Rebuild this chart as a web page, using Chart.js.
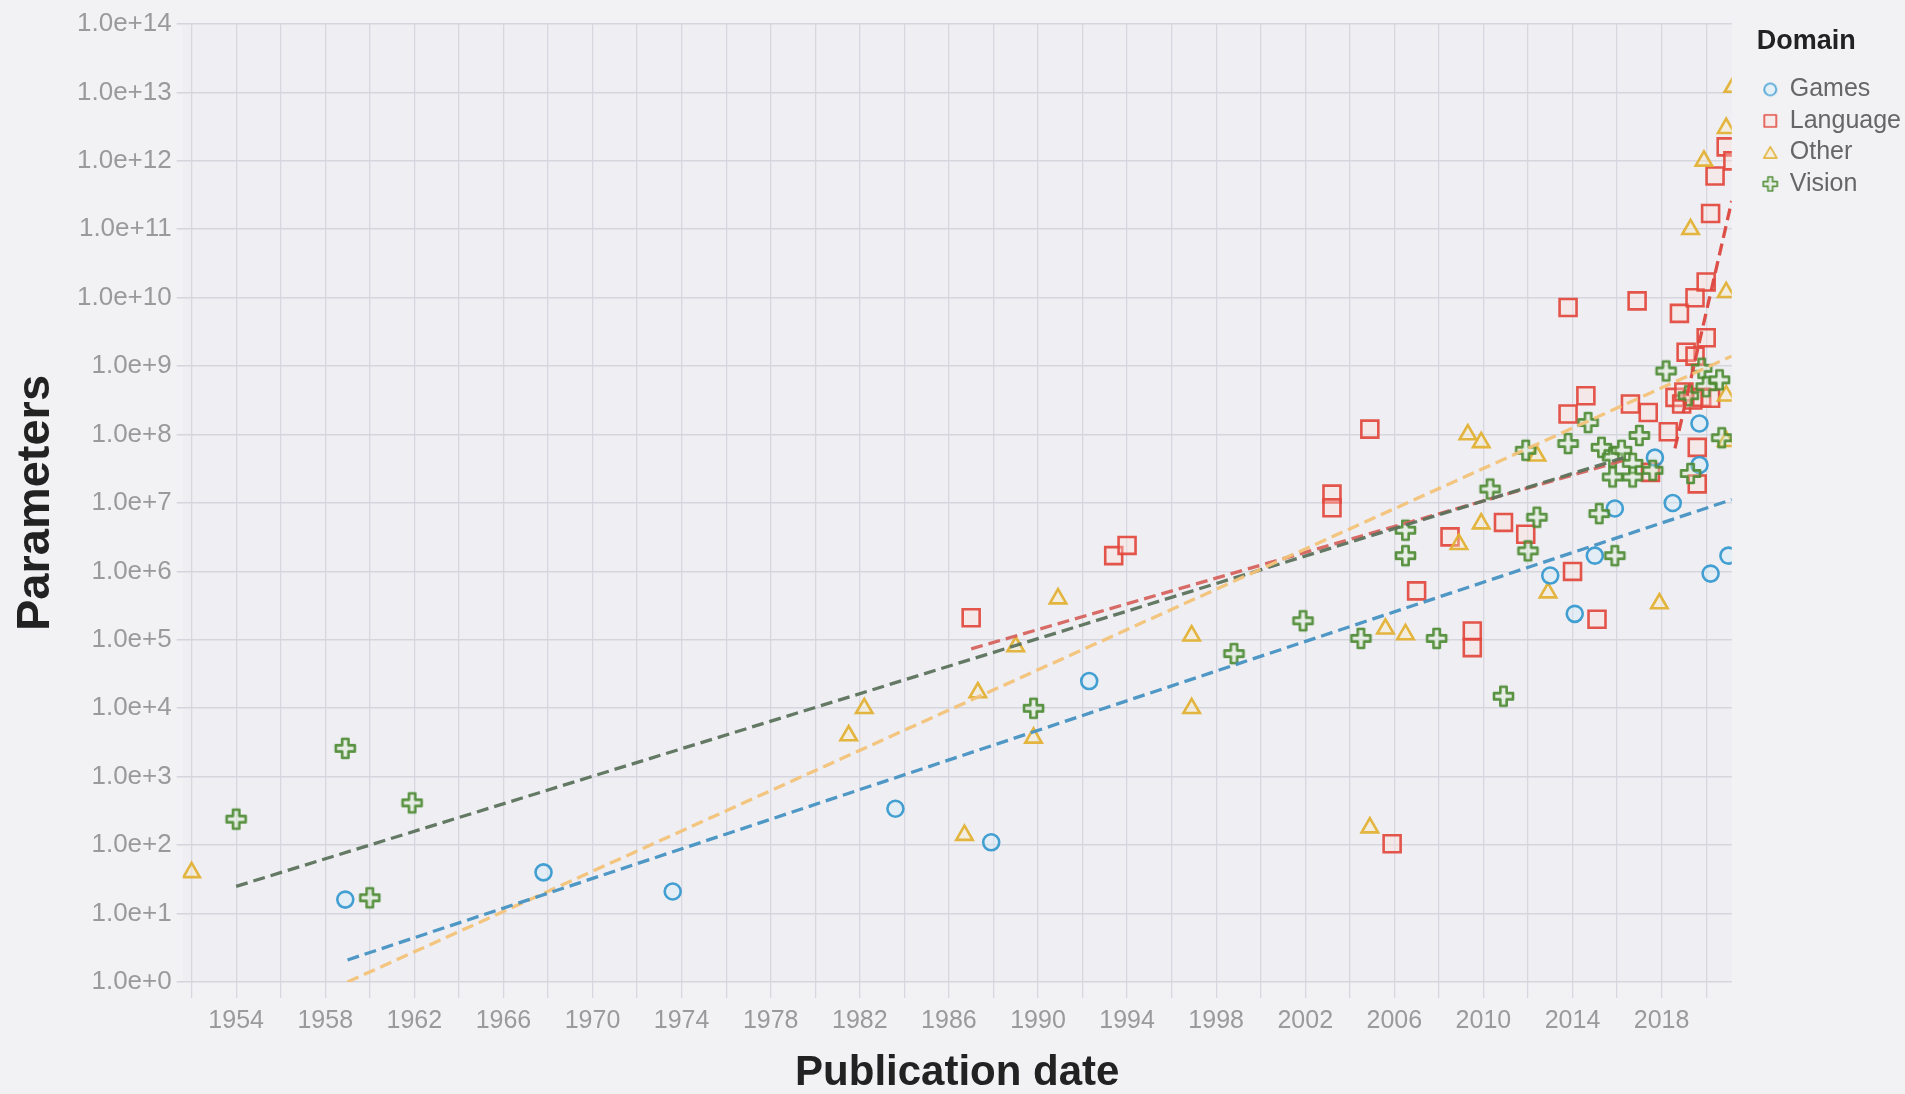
<!DOCTYPE html>
<html>
<head>
<meta charset="utf-8">
<title>Parameters by publication date</title>
<script src="https://cdn.jsdelivr.net/npm/chart.js@4/dist/chart.umd.min.js"></script>
<style>
  html, body { margin: 0; padding: 0; background: #f2f2f5; }
  #wrap { width: 1905px; height: 1094px; }
</style>
</head>
<body>
<div id="wrap"><canvas id="chart"></canvas></div>
<script>
// Domains shown in the legend
const domains = ['Games', 'Language', 'Other', 'Vision'];

// [publication year, parameter count]
const games = [
  [1958.9, 16], [1967.8, 40], [1973.6, 21], [1983.6, 340], [1987.9, 110],
  [1992.3, 2.5e4], [2013.0, 8.7e5], [2014.1, 2.4e5], [2015.0, 1.7e6],
  [2015.9, 8.3e6], [2017.7, 4.6e7], [2018.5, 1.0e7], [2019.7, 1.45e8],
  [2019.7, 3.6e7], [2020.2, 9.3e5], [2021.0, 1.7e6]
];
const language = [
  [1987.0, 2.1e5], [1993.4, 1.7e6], [1994.0, 2.4e6], [2003.2, 1.35e7], [2003.2, 8.5e6],
  [2004.9, 1.2e8], [2005.9, 105], [2007.0, 5.2e5], [2008.5, 3.2e6], [2009.5, 1.35e5],
  [2009.5, 7.7e4], [2010.9, 5.2e6], [2011.9, 3.5e6], [2013.8, 7.2e9], [2013.8, 2.0e8],
  [2014.0, 1.0e6], [2014.6, 3.7e8], [2015.1, 2.0e5], [2016.6, 2.8e8], [2016.9, 9.0e9],
  [2017.4, 2.1e8], [2017.5, 2.8e7], [2018.3, 1.1e8], [2018.6, 3.5e8], [2018.8, 5.9e9],
  [2018.9, 2.8e8], [2019.0, 4.2e8], [2019.1, 1.6e9], [2019.4, 3.2e8], [2019.5, 1.4e9],
  [2019.5, 1.0e10], [2019.6, 6.5e7], [2019.6, 1.9e7], [2019.8, 3.5e8], [2020.0, 1.7e10],
  [2020.0, 2.6e9], [2020.2, 3.4e8], [2020.2, 1.7e11], [2020.4, 6.0e11], [2020.9, 1.6e12],
  [2021.2, 1.0e12], [2021.2, 2.0e11]
];
const other = [
  [1952.0, 40], [1981.5, 4.0e3], [1982.2, 1.0e4], [1986.7, 140], [1987.3, 1.7e4],
  [1989.0, 8.0e4], [1989.8, 3.7e3], [1990.9, 4.0e5], [1996.9, 1.15e5], [1996.9, 1.0e4],
  [2004.9, 180], [2005.6, 1.45e5], [2006.5, 1.2e5], [2008.9, 2.5e6], [2009.3, 1.0e8],
  [2009.9, 7.7e7], [2009.9, 5.0e6], [2012.4, 4.9e7], [2012.9, 4.9e5], [2017.9, 3.4e5],
  [2019.3, 1.0e11], [2019.9, 1.0e12], [2020.9, 3.0e12], [2021.2, 1.2e13], [2020.9, 1.2e10],
  [2020.9, 3.7e8], [2020.9, 8.0e7]
];
const vision = [
  [1954.0, 240], [1958.9, 2600], [1960.0, 17], [1961.9, 415], [1989.8, 1.0e4],
  [1998.8, 6.3e4], [2001.9, 1.9e5], [2004.5, 1.05e5], [2006.5, 4.0e6], [2006.5, 1.7e6],
  [2007.9, 1.05e5], [2010.3, 1.6e7], [2010.9, 1.5e4], [2011.9, 5.9e7], [2012.0, 2.0e6],
  [2012.4, 6.2e6], [2013.8, 7.4e7], [2014.7, 1.5e8], [2015.2, 7.0e6], [2015.9, 1.7e6],
  [2015.3, 6.5e7], [2015.8, 4.7e7], [2015.8, 2.4e7], [2016.2, 5.9e7], [2016.7, 3.8e7],
  [2016.7, 2.4e7], [2017.0, 9.7e7], [2017.6, 3.0e7], [2018.2, 8.5e8], [2019.2, 3.7e8],
  [2019.3, 2.7e7], [2019.8, 9.3e8], [2020.0, 5.0e8], [2020.6, 6.3e8], [2020.7, 9.0e7]
];

// Fitted trend segments: [start, end] as [year, parameters]
const gamesTrend = [[1959.0, 2.1], [2021.15, 1.12e7]];
const otherTrend = [[1959.0, 1.0], [2021.15, 1.4e9]];
const visionTrend = [[1954.0, 25], [2016.3, 4.6e7]];
const languageTrend = [[1987.0, 7.4e4], [2016.3, 4.2e7]];
const languageRecentTrend = [[2018.6, 6.3e7], [2021.15, 2.6e11]];

// Axis ticks
const gridYears = [1952, 1954, 1956, 1958, 1960, 1962, 1964, 1966, 1968, 1970, 1972, 1974,
  1976, 1978, 1980, 1982, 1984, 1986, 1988, 1990, 1992, 1994, 1996, 1998, 2000, 2002,
  2004, 2006, 2008, 2010, 2012, 2014, 2016, 2018, 2020];
const labelYears = [1954, 1958, 1962, 1966, 1970, 1974, 1978, 1982, 1986, 1990, 1994,
  1998, 2002, 2006, 2010, 2014, 2018];
const yTickLabels = ['1.0e+0', '1.0e+1', '1.0e+2', '1.0e+3', '1.0e+4', '1.0e+5', '1.0e+6',
  '1.0e+7', '1.0e+8', '1.0e+9', '1.0e+10', '1.0e+11', '1.0e+12', '1.0e+13', '1.0e+14'];

const FONT = "'Liberation Sans', Arial, Helvetica, sans-serif";
Chart.defaults.font.family = FONT;

const stroke = {
  Games: 'rgba(52,152,206,0.92)',
  Language: 'rgba(226,70,60,0.92)',
  Other: 'rgba(226,176,48,0.92)',
  Vision: 'rgba(76,138,50,0.92)'
};
const fill = {
  Games: 'rgba(205,236,250,0.35)',
  Language: 'rgba(255,222,214,0.35)',
  Other: 'rgba(250,236,190,0.35)',
  Vision: 'rgba(214,236,204,0.35)'
};

// Small canvases used as marker glyphs
function glyph(kind, size, color, bg, lw) {
  const pad = lw + 2;
  const s = Math.ceil(size + pad * 2);
  const c = document.createElement('canvas');
  c.width = c.height = s;
  const g = c.getContext('2d');
  const o = s / 2, h = size / 2;
  g.beginPath();
  if (kind === 'circle') {
    g.arc(o, o, h, 0, Math.PI * 2);
  } else if (kind === 'square') {
    g.rect(o - h, o - h, size, size);
  } else if (kind === 'triangle') {
    const th = size * 0.87;
    g.moveTo(o, o - th / 2);
    g.lineTo(o + h, o + th / 2);
    g.lineTo(o - h, o + th / 2);
    g.closePath();
  } else {
    const a = size / 6;
    g.moveTo(o - h, o - a); g.lineTo(o - a, o - a); g.lineTo(o - a, o - h);
    g.lineTo(o + a, o - h); g.lineTo(o + a, o - a); g.lineTo(o + h, o - a);
    g.lineTo(o + h, o + a); g.lineTo(o + a, o + a); g.lineTo(o + a, o + h);
    g.lineTo(o - a, o + h); g.lineTo(o - a, o + a); g.lineTo(o - h, o + a);
    g.closePath();
  }
  g.fillStyle = bg;
  g.fill();
  g.lineJoin = 'round';
  g.lineWidth = lw;
  g.strokeStyle = color;
  g.stroke();
  return c;
}

const visionMarker = glyph('cross', 19, stroke.Vision, fill.Vision, 2.6);
const legendGlyphs = {
  Games: glyph('circle', 12, stroke.Games, fill.Games, 1.7),
  Language: glyph('square', 12, stroke.Language, fill.Language, 1.7),
  Other: glyph('triangle', 13, stroke.Other, fill.Other, 1.7),
  Vision: glyph('cross', 14, stroke.Vision, fill.Vision, 1.7)
};

const toXY = arr => arr.map(([x, y]) => ({ x, y }));

function pointSet(name, data, style, radius, order) {
  return {
    label: name,
    data: toXY(data),
    pointStyle: style,
    pointRadius: radius,
    borderWidth: 2.6,
    borderColor: stroke[name],
    backgroundColor: fill[name],
    showLine: false,
    order
  };
}

function trendSet(name, data, color) {
  return {
    label: name + ' trend',
    data: toXY(data),
    showLine: true,
    borderColor: color,
    borderWidth: 3.3,
    borderDash: [12, 6],
    pointRadius: 0,
    fill: false,
    order: 0
  };
}

const plotBackground = {
  id: 'plotBackground',
  beforeDraw(chart) {
    const { ctx, chartArea: a } = chart;
    ctx.save();
    ctx.fillStyle = '#eeeef3';
    ctx.fillRect(a.left, a.top, a.right - a.left, a.bottom - a.top);
    ctx.restore();
  }
};

new Chart(document.getElementById('chart'), {
  type: 'scatter',
  data: {
    datasets: [
      trendSet('Games', gamesTrend, 'rgba(70,146,194,0.95)'),
      trendSet('Other', otherTrend, 'rgba(242,194,120,0.95)'),
      trendSet('Vision', visionTrend, 'rgba(92,114,92,0.95)'),
      trendSet('Language', languageTrend, 'rgba(214,92,86,0.9)'),
      trendSet('Language', languageRecentTrend, 'rgba(220,70,62,0.95)'),
      pointSet('Vision', vision, visionMarker, 9, 1),
      pointSet('Games', games, 'circle', 8, 2),
      pointSet('Other', other, 'triangle', 9.5, 3),
      pointSet('Language', language, 'rect', 12, 4)
    ]
  },
  options: {
    responsive: true,
    maintainAspectRatio: false,
    animation: false,
    events: [],
    layout: { padding: { top: 24, left: 8, right: -6, bottom: 0 } },
    plugins: {
      tooltip: { enabled: false },
      legend: {
        position: 'right',
        align: 'start',
        title: {
          display: true,
          text: 'Domain',
          color: '#222',
          position: 'start',
          font: { size: 27, weight: 'bold', family: FONT },
          padding: { top: 4, bottom: 10 }
        },
        labels: {
          usePointStyle: true,
          boxWidth: 14,
          boxHeight: 14,
          padding: 6.5,
          color: '#666',
          font: { size: 25, family: FONT },
          generateLabels: () => domains.map((name, i) => ({
            text: name,
            fillStyle: fill[name],
            strokeStyle: stroke[name],
            lineWidth: 1.7,
            pointStyle: legendGlyphs[name],
            fontColor: '#666',
            hidden: false,
            datasetIndex: i
          }))
        }
      }
    },
    scales: {
      x: {
        type: 'linear',
        min: 1951.6,
        max: 2021.15,
        afterBuildTicks: s => { s.ticks = gridYears.map(v => ({ value: v })); },
        ticks: {
          autoSkip: false,
          maxRotation: 0,
          padding: 8,
          color: '#9a9a9a',
          font: { size: 25 },
          callback: v => labelYears.includes(v) ? String(v) : ''
        },
        grid: { color: '#d7d7df', lineWidth: 1.3, tickLength: 16, tickColor: '#d7d7df' },
        border: { display: false },
        title: {
          display: true,
          text: 'Publication date',
          color: '#222',
          font: { size: 42, weight: 'bold', lineHeight: 1 },
          padding: { top: 8, bottom: 0 }
        }
      },
      y: {
        type: 'logarithmic',
        min: 1,
        max: 1e14,
        afterBuildTicks: s => { s.ticks = yTickLabels.map((_, i) => ({ value: Math.pow(10, i) })); },
        ticks: {
          autoSkip: false,
          padding: 5,
          color: '#9a9a9a',
          font: { size: 26 },
          callback: (v, i) => yTickLabels[i]
        },
        grid: { color: '#d5d5dd', lineWidth: 1.6, tickLength: 6, tickColor: '#d5d5dd' },
        border: { display: false },
        title: {
          display: true,
          text: 'Parameters',
          color: '#222',
          font: { size: 47, weight: 'bold', lineHeight: 1 },
          padding: { top: 5, bottom: 12 }
        }
      },
      gap: {
        type: 'linear',
        position: 'right',
        display: true,
        grid: { display: false },
        border: { display: false },
        ticks: { display: false },
        afterFit: s => { s.width = 25; }
      }
    }
  },
  plugins: [plotBackground]
});
</script>
</body>
</html>
